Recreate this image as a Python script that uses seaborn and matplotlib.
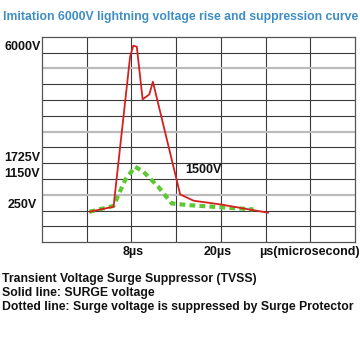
import matplotlib
matplotlib.use("Agg")
import matplotlib.pyplot as plt
import seaborn as sns
import pandas as pd

# Datos (unidades de cuadricula: x = columnas, y = filas)
surge_x = [1.06, 1.60, 1.97, 2.04, 2.12, 2.25, 2.40, 2.48, 3.09, 3.39, 3.98, 5.06]
surge_y = [1.93, 2.25, 11.73, 12.43, 12.37, 9.04, 9.35, 10.15, 3.03, 2.63, 2.40, 1.87]

supp_x = [1.06, 1.60, 1.86, 2.08, 2.27, 2.60, 2.90, 3.23, 4.73]
supp_y = [1.93, 2.30, 3.94, 4.78, 4.46, 3.51, 2.46, 2.36, 2.08]

volt_labels = ["6000V", "1725V", "1150V", "250V"]
volt_rows = [12.35, 5.33, 4.32, 2.36]

time_labels = ["8µs", "20µs", "µs(microsecond)"]
time_cols = [2.04, 3.94, 5.97]

notas = [
    "Transient Voltage Surge Suppressor (TVSS)",
    "Solid line: SURGE voltage",
    "Dotted line: Surge voltage is suppressed by Surge Protector",
]

df_surge = pd.DataFrame({"t": surge_x, "v": surge_y})
df_supp = pd.DataFrame({"t": supp_x, "v": supp_y})

sns.set_style("white")
plt.rcParams["font.family"] = ["Liberation Sans", "DejaVu Sans"]

fig = plt.figure(figsize=(3.6, 3.6), dpi=100)
ax = fig.add_axes([42 / 360, (360 - 242.3) / 360, 313 / 360, 205.6 / 360])

# cuadricula
for c in range(1, 7):
    ax.axvline(c, color="#3a3a3a", lw=0.8, zorder=0)
for r in range(1, 13):
    if r in (3, 7, 11):
        ax.axhline(r, color="#bbbbbb", lw=1.6, zorder=0)
    else:
        ax.axhline(r, color="#3a3a3a", lw=0.8, zorder=0)

sns.lineplot(data=df_supp, x="t", y="v", ax=ax, color="#5ec832", lw=3.0,
             linestyle=(0, (1.4, 1.0)), sort=False, zorder=2)
sns.lineplot(data=df_surge, x="t", y="v", ax=ax, color="#d42020", lw=1.3,
             sort=False, zorder=3)

ax.set_xlim(0, 7)
ax.set_ylim(0, 13)
ax.set_xticks([])
ax.set_yticks([])
ax.set_xlabel("")
ax.set_ylabel("")
for s in ax.spines.values():
    s.set_color("#555555")
    s.set_linewidth(0.9)

for lab, r in zip(volt_labels, volt_rows):
    ax.text(-0.44, r, lab, ha="center", va="center", fontsize=9,
            fontweight="bold", color="#111111", clip_on=False)

for lab, c in zip(time_labels, time_cols):
    ax.text(c, -0.6, lab, ha="center", va="center", fontsize=9,
            fontweight="bold", color="#111111", clip_on=False)

ax.text(3.6, 4.6, "1500V", ha="center", va="center", fontsize=9,
        fontweight="bold", color="#111111")

fig.text(3 / 360, 1 - 17 / 360, "Imitation 6000V lightning voltage rise and suppression curve",
         ha="left", va="center", fontsize=8.8, fontweight="bold", color="#3e8ec4")

for i, linea in enumerate(notas):
    fig.text(2 / 360, 1 - (279 + 14 * i) / 360, linea, ha="left", va="center",
             fontsize=8.8, fontweight="bold", color="#111111")

fig.savefig("out.png", dpi=100)
plt.close(fig)
